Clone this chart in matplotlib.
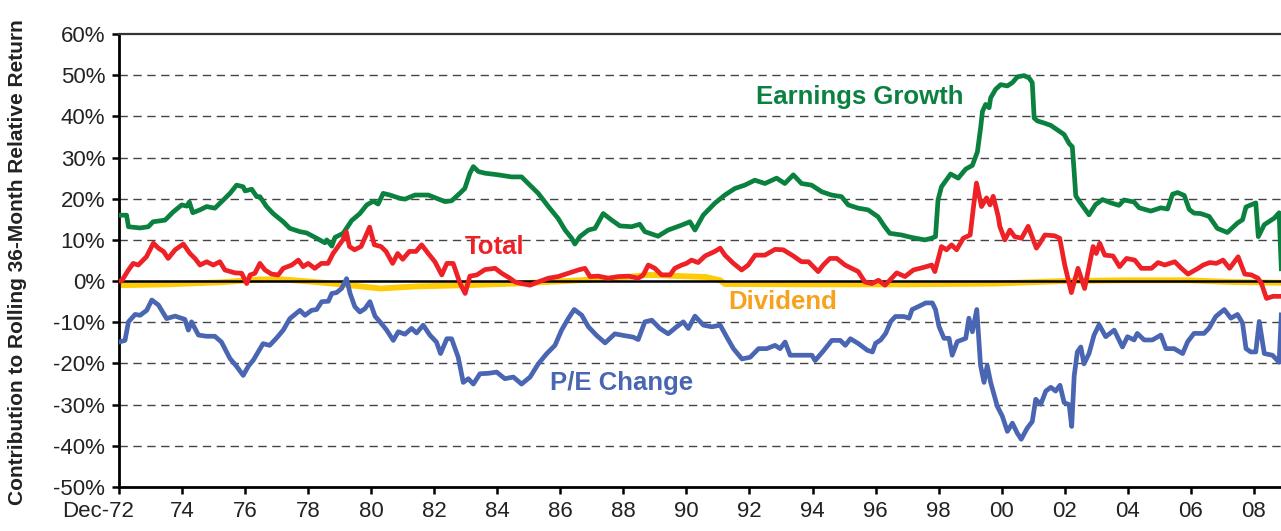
import matplotlib
matplotlib.use("Agg")
import matplotlib.pyplot as plt
import matplotlib.transforms as mtransforms

plt.rcParams["font.family"] = ["Liberation Sans", "DejaVu Sans"]

# time axis: years after Dec-1972
EARN_T = [0, 0.24, 0.3, 0.67, 0.93, 1.08, 1.46, 1.72, 1.99, 2.15, 2.23, 2.34, 2.57, 2.78, 3.04, 3.31,
          3.52, 3.73, 3.94, 4.0, 4.21, 4.37, 4.47, 4.68, 4.89, 5.21, 5.42, 5.74, 5.95, 6.27, 6.53, 6.59,
          6.75, 6.85, 7.11, 7.38, 7.64, 7.86, 8.07, 8.22, 8.38, 8.59, 8.91, 9.07, 9.39, 9.81, 10.34,
          10.55, 10.81, 10.97, 11.13, 11.24, 11.4, 11.61, 12.03, 12.45, 12.77, 12.98, 13.3, 13.62,
          13.93, 14.15, 14.36, 14.46, 14.62, 14.89, 15.1, 15.36, 15.63, 15.89, 16.26, 16.52, 16.68,
          17.1, 17.42, 17.85, 18.11, 18.27, 18.53, 18.9, 19.22, 19.54, 19.85, 20.17, 20.49, 20.86,
          21.12, 21.39, 21.65, 21.97, 22.29, 22.6, 22.92, 23.13, 23.45, 23.76, 24.08, 24.29, 24.45,
          24.82, 25.14, 25.56, 25.77, 25.9, 25.98, 26.09, 26.38, 26.62, 26.86, 27.07, 27.23, 27.33,
          27.39, 27.49, 27.6, 27.65, 27.81, 27.97, 28.18, 28.34, 28.5, 28.71, 28.87, 28.97, 29.03,
          29.13, 29.34, 29.56, 29.77, 29.98, 30.14, 30.24, 30.3, 30.35, 30.46, 30.61, 30.77, 30.98,
          31.2, 31.46, 31.72, 31.88, 32.2, 32.36, 32.73, 33.05, 33.26, 33.42, 33.58, 33.79, 33.95,
          34.1, 34.31, 34.58, 34.84, 35.16, 35.48, 35.64, 35.75, 36.06, 36.14, 36.33, 36.65, 36.8, 36.87]
EARN_V = [16.0, 16.0, 13.2, 12.9, 13.2, 14.4, 14.8, 16.8, 18.5, 18.2, 19.2, 16.6, 17.3, 18.1, 17.7, 19.7,
          21.3, 23.3, 22.9, 21.9, 22.3, 20.5, 20.5, 18.1, 16.4, 14.4, 12.8, 12.0, 11.7, 10.4, 9.3, 10.0,
          8.5, 10.6, 11.6, 14.7, 16.4, 18.5, 19.4, 18.7, 21.3, 20.9, 20.1, 19.9, 20.9, 20.9, 19.3,
          19.5, 21.3, 22.5, 26.2, 27.8, 26.6, 26.2, 25.8, 25.3, 25.3, 23.7, 21.3, 18.1,
          15.2, 12.4, 10.4, 9.0, 10.8, 12.4, 12.8, 16.4, 14.8, 13.4, 13.2, 13.8, 12.0,
          10.9, 12.4, 13.6, 14.4, 12.4, 16.0, 18.9, 20.9, 22.5, 23.3, 24.5, 23.7, 25.0,
          23.7, 25.8, 23.7, 23.3, 21.7, 20.9, 20.5, 18.5, 17.7, 17.3, 15.6, 13.2, 11.6,
          11.2, 10.6, 10.0, 10.4, 10.8, 19.7, 22.9, 26.0, 25.0, 27.2, 28.1, 31.4, 37.1,
          41.2, 42.9, 42.1, 44.5, 46.6, 47.7, 47.4, 48.2, 49.6, 49.9, 49.3, 48.2, 39.6,
          38.9, 38.4, 37.8, 36.7, 35.6, 33.4, 32.6, 26.4, 20.7, 19.4, 17.8, 16.1, 18.6,
          19.8, 19.0, 18.4, 19.7, 19.2, 17.8, 17.0, 17.8, 17.5, 21.1, 21.5, 20.8, 17.4,
          16.5, 16.4, 15.7, 12.8, 11.8, 14.1, 14.9, 18.0, 19.0, 10.8, 13.7, 15.3, 16.6, 3.0]

TOTAL_T = [0, 0.08, 0.3, 0.45, 0.61, 0.87, 1.09, 1.25, 1.41, 1.56, 1.78, 2.04, 2.25, 2.41, 2.57, 2.78,
           2.99, 3.2, 3.36, 3.68, 3.89, 4.05, 4.16, 4.31, 4.47, 4.63, 4.84, 5.05, 5.21, 5.48, 5.69,
           5.84, 6.0, 6.21, 6.42, 6.63, 6.79, 6.95, 7.1, 7.21, 7.31, 7.47, 7.68, 7.84, 7.95, 8.1,
           8.31, 8.47, 8.68, 8.84, 9.0, 9.21, 9.42, 9.6, 9.81, 10.02, 10.24, 10.4, 10.6, 10.82,
           10.98, 11.13, 11.35, 11.61, 11.93, 12.14, 12.4, 12.56, 12.77, 13.04, 13.3, 13.62, 13.93,
           14.25, 14.57, 14.78, 14.94, 15.2, 15.52, 15.84, 16.16, 16.47, 16.63, 16.79, 17.0, 17.21,
           17.48, 17.63, 17.85, 18.0, 18.16, 18.37, 18.59, 18.9, 19.07, 19.22, 19.49, 19.75, 19.96,
           20.18, 20.49, 20.81, 21.07, 21.39, 21.65, 21.87, 22.18, 22.34, 22.55, 22.77, 23.03,
           23.24, 23.45, 23.66, 23.88, 24.09, 24.3, 24.51, 24.67, 24.93, 25.2, 25.51, 25.78, 25.88,
           26.09, 26.25, 26.41, 26.57, 26.78, 27.0, 27.1, 27.2, 27.36, 27.52, 27.63, 27.73, 27.89,
           27.94, 28.1, 28.26, 28.41, 28.63, 28.84, 29.1, 29.21, 29.37, 29.68, 29.84, 30.0, 30.21,
           30.42, 30.63, 30.9, 31.0, 31.11, 31.27, 31.53, 31.74, 31.96, 32.22, 32.43, 32.75, 32.96,
           33.17, 33.49, 33.7, 33.91, 34.23, 34.39, 34.6, 34.81, 35.02, 35.23, 35.5, 35.71, 35.92,
           36.13, 36.24, 36.4, 36.61, 36.87]
TOTAL_V = [0, 0, 2.7, 4.3, 3.9, 5.9, 9.2, 8.0, 7.2, 5.5, 7.6, 9.0, 6.7, 5.5, 3.9, 4.7,
           3.9, 4.7, 2.7, 2.0, 1.9, -0.6, 1.5, 1.9, 4.3, 2.7, 1.7, 1.5, 3.1, 3.9, 5.1,
           3.5, 4.3, 3.1, 4.3, 4.3, 6.7, 8.4, 10.0, 12.0, 8.4, 7.6, 8.4, 11.2, 13.1, 8.8,
           8.4, 7.2, 4.3, 6.7, 5.3, 7.2, 7.2, 8.8, 6.7, 4.7, 1.5, 4.3, 4.3, -0.6,
           -3.0, 1.2, 1.5, 2.8, 3.1, 1.9, 0.7, -0.2, -0.6, -1.0, -0.2, 0.7, 1.1,
           1.9, 2.7, 3.1, 1.1, 1.2, 0.7, 1.1, 1.2, 0.7, 1.5, 3.9, 3.1, 1.5,
           1.5, 3.1, 3.9, 4.3, 5.1, 4.5, 6.1, 7.2, 8.0, 6.3, 4.3, 2.7, 3.9,
           6.3, 6.3, 7.7, 7.6, 6.1, 4.7, 4.7, 2.3, 3.9, 5.5, 5.5, 3.9,
           3.1, 2.3, -0.2, -0.6, 0.2, -1.0, 0.7, 2.0, 1.1, 2.7, 3.3, 3.9, 2.3,
           8.4, 7.6, 8.8, 7.6, 10.4, 11.2, 17.7, 23.8, 18.1, 20.2, 18.5, 20.6, 15.7,
           13.3, 10.0, 12.4, 10.8, 10.4, 13.3, 8.0, 9.2, 11.2, 11.0, 10.4, 3.9, -2.8,
           3.1, -1.8, 8.4, 6.7, 9.2, 6.3, 6.1, 3.5, 5.5, 5.1, 3.1, 3.1, 4.5,
           3.9, 4.7, 3.1, 1.7, 3.1, 3.9, 4.5, 4.3, 5.1, 3.1, 5.9, 1.7, 1.5,
           0.7, -0.6, -4.2, -3.7, -3.7]

PE_T = [0, 0.19, 0.3, 0.51, 0.67, 0.88, 1.04, 1.25, 1.51, 1.78, 2.09, 2.2, 2.3, 2.52, 2.78, 3.04,
        3.25, 3.52, 3.73, 3.94, 4.1, 4.26, 4.57, 4.78, 4.99, 5.21, 5.42, 5.74, 5.9, 6.11, 6.27,
        6.43, 6.64, 6.75, 6.9, 7.06, 7.22, 7.33, 7.48, 7.64, 7.8, 7.96, 8.12, 8.28, 8.49, 8.7,
        8.86, 9.07, 9.28, 9.44, 9.65, 9.86, 10.07, 10.2, 10.4, 10.55, 10.76, 10.92, 11.08, 11.24,
        11.45, 11.71, 11.98, 12.24, 12.51, 12.77, 13.04, 13.3, 13.57, 13.83, 14.04, 14.25, 14.44,
        14.68, 14.89, 15.15, 15.42, 15.73, 16.0, 16.31, 16.47, 16.68, 16.9, 17.16, 17.42, 17.69,
        17.9, 18.06, 18.27, 18.54, 18.81, 19.07, 19.28, 19.49, 19.76, 20.02, 20.29, 20.55, 20.81,
        20.97, 21.13, 21.29, 21.61, 21.98, 22.08, 22.35, 22.61, 22.88, 23.04, 23.2, 23.46, 23.74,
        23.9, 24.0, 24.16, 24.32, 24.48, 24.63, 24.9, 25.06, 25.16, 25.38, 25.59, 25.8, 25.9,
        26.01, 26.17, 26.33, 26.43, 26.59, 26.86, 26.96, 27.07, 27.21, 27.33, 27.44, 27.54, 27.65,
        27.86, 28.02, 28.18, 28.34, 28.5, 28.62, 28.81, 28.97, 29.08, 29.24, 29.4, 29.56, 29.71,
        29.85, 29.98, 30.14, 30.22, 30.3, 30.4, 30.51, 30.61, 30.77, 30.93, 31.09, 31.3, 31.57,
        31.83, 31.99, 32.2, 32.3, 32.52, 32.78, 33.05, 33.21, 33.47, 33.74, 33.9, 34.1, 34.42,
        34.58, 34.79, 35.06, 35.27, 35.48, 35.64, 35.75, 35.9, 36.06, 36.17, 36.33, 36.59, 36.8, 36.87]
PE_V = [-14.8, -14.4, -9.9, -8.1, -8.3, -7.1, -4.6, -5.8, -9.1, -8.5, -9.3, -11.9, -9.9, -13.1, -13.4, -13.4,
        -14.8, -18.8, -20.7, -22.9, -20.7, -19.2, -15.2, -15.6, -13.9, -11.9, -9.1, -7.1, -8.3, -7.1, -6.9,
        -5.0, -4.9, -3.0, -2.8, -1.8, 0.6, -3.0, -6.2, -7.5, -6.7, -5.0, -8.5, -9.9, -11.9, -14.4,
        -12.3, -12.9, -11.5, -12.6, -10.7, -13.1, -14.8, -17.6, -14.0, -14.0, -18.5, -24.6, -23.7, -25.0,
        -22.5, -22.4, -22.1, -23.7, -23.3, -25.0, -23.3, -20.1, -17.6, -15.6, -11.9, -9.1, -6.9,
        -8.3, -11.1, -13.2, -15.0, -12.8, -13.2, -13.6, -14.2, -9.9, -9.5, -11.5, -12.8, -11.1,
        -9.9, -11.5, -8.5, -10.7, -11.1, -10.7, -13.6, -16.4, -18.9, -18.5, -16.4, -16.4, -15.6,
        -16.4, -14.8, -18.0, -18.0, -18.0, -19.3, -16.9, -14.4, -14.4, -15.6, -14.0, -15.2, -16.8,
        -17.2, -15.1, -14.3, -12.7, -9.8, -8.6, -8.6, -9.0, -6.9, -6.1, -5.3, -5.3, -6.9,
        -11.0, -13.9, -13.9, -18.0, -14.7, -13.9, -9.0, -12.3, -6.9, -20.5, -24.6, -20.5, -24.6,
        -30.4, -32.8, -36.5, -34.5, -37.0, -38.4, -35.7, -34.1, -28.7, -29.9, -26.7, -25.8, -26.7,
        -25.3, -29.5, -30.0, -35.3, -23.0, -17.2, -16.0, -20.1, -17.6, -13.1, -10.6, -13.5, -11.9,
        -16.0, -13.5, -14.3, -12.7, -14.3, -14.3, -13.1, -16.4, -16.4, -17.6, -14.7, -12.7, -12.7,
        -11.4, -8.6, -6.9, -9.0, -8.1, -10.2, -16.4, -17.2, -17.2, -9.8, -17.6, -18.0, -19.7, -8.2]

DIV_T = [0, 1.5, 3.2, 4.5, 5.2, 6.2, 7.3, 8.3, 9.4, 11.0, 12.56, 14.15, 15.73, 16.79, 17.85,
         18.6, 19.07, 19.22, 21.76, 24.93, 27.78, 29.9, 32.0, 33.9, 35.2, 36.87]
DIV_V = [-1.0, -0.8, -0.3, 0.4, 0.4, -0.2, -1.0, -1.8, -1.3, -1.0, -0.6, 0.0, 0.7, 1.5, 1.2,
         1.0, 0.2, -0.7, -0.8, -0.8, -0.6, 0.0, 0.2, 0.2, -0.2, -0.4]

TICK_POS = list(range(0, 37, 2))
TICK_LABELS = ["Dec-72", "74", "76", "78", "80", "82", "84", "86", "88", "90",
               "92", "94", "96", "98", "00", "02", "04", "06", "08"]
Y_TICKS = list(range(-50, 61, 10))

GREEN = "#0B8140"
RED = "#EE2127"
BLUE = "#4A66B2"
YELLOW = "#FFCB05"
ORANGE = "#F7A11C"

fig = plt.figure(figsize=(12.81, 5.31), dpi=100)
ax = fig.add_axes([119 / 1281, 1 - 487 / 531, 1 - 119 / 1281, (487 - 34) / 531])

for y in Y_TICKS:
    if y in (-50, 0, 60):
        continue
    ax.axhline(y, color="#444444", lw=1.0, linestyle=(0, (6, 4)), zorder=1)

ax.plot(DIV_T, DIV_V, color=YELLOW, lw=4.2, zorder=2, solid_capstyle="butt")
ax.axhline(0, color="black", lw=1.8, zorder=3)
ax.plot(PE_T, PE_V, color=BLUE, lw=3.4, zorder=4)
ax.plot(EARN_T, EARN_V, color=GREEN, lw=3.4, zorder=4)
ax.plot(TOTAL_T, TOTAL_V, color=RED, lw=3.4, zorder=5)

ax.set_xlim(0, 36.86)
ax.set_ylim(-50, 60)
ax.set_yticks(Y_TICKS)
ax.set_yticklabels([f"{v}%" for v in Y_TICKS])
ax.set_xticks(TICK_POS)
ax.set_xticklabels(TICK_LABELS)

ax.spines["right"].set_visible(False)
ax.spines["left"].set_linewidth(2.0)
ax.spines["bottom"].set_linewidth(2.0)
ax.spines["top"].set_linewidth(1.6)
ax.spines["top"].set_color("#333333")
ax.tick_params(axis="both", direction="out", length=5, width=1.8, labelsize=16,
               colors="black", labelcolor="#222222")
ax.tick_params(axis="x", pad=5)
ax.tick_params(axis="y", pad=5)

first = ax.get_xticklabels()[0]
first.set_horizontalalignment("right")
first.set_transform(first.get_transform() + mtransforms.ScaledTranslation(15 / 100, 0, fig.dpi_scale_trans))

fig.text(18 / 1281, 1 - 262 / 531, "Contribution to Rolling 36-Month Relative Return",
         rotation=90, ha="center", va="center", fontsize=15, fontweight="bold", color="#222222")

ax.text(23.5, 44.7, "Earnings Growth", color=GREEN, fontsize=18.5, fontweight="bold", ha="center", va="center")
ax.text(11.92, 8.3, "Total", color=RED, fontsize=18.5, fontweight="bold", ha="center", va="center")
ax.text(21.06, -5.1, "Dividend", color=ORANGE, fontsize=18.5, fontweight="bold", ha="center", va="center")
ax.text(15.95, -24.8, "P/E Change", color=BLUE, fontsize=18.5, fontweight="bold", ha="center", va="center")

fig.savefig("out.png", dpi=100)
